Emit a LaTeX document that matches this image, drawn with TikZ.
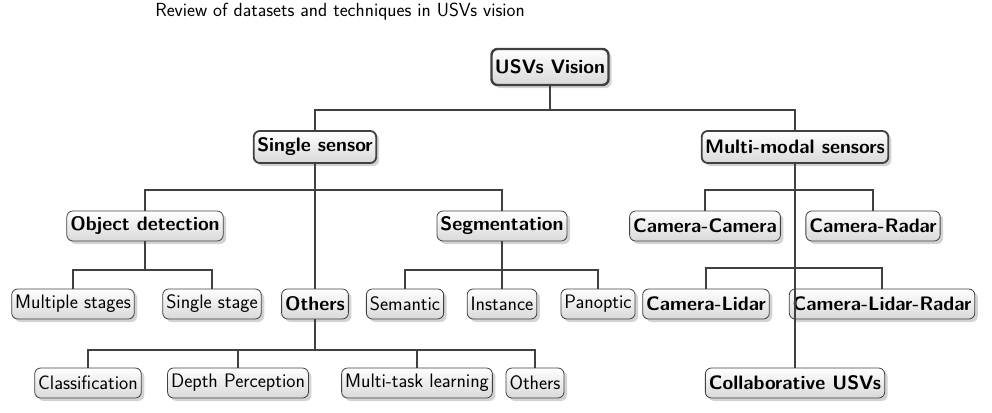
\documentclass[tikz,border=0pt]{standalone}
\usepackage{fontspec}
\setsansfont{Latin Modern Sans}
\usetikzlibrary{shadows}
\begin{document}
\begin{tikzpicture}[x=1pt,y=-1pt,
 base/.style={rounded corners=6pt,draw=black!75,top color=white,bottom color=black!15,font=\fontsize{19.5}{21}\selectfont\sffamily,inner xsep=3.5pt,inner ysep=2pt,minimum height=32pt,drop shadow={opacity=0.35,shadow xshift=3pt,shadow yshift=-3pt}},
 leaf/.style={base,line width=0.8pt,minimum height=30pt},
 bleaf/.style={leaf,font=\fontsize{19.5}{21}\selectfont\sffamily\bfseries},
 mid/.style={base,line width=1.8pt,font=\fontsize{19.5}{21}\selectfont\sffamily\bfseries},
 top/.style={mid,line width=2.4pt,minimum height=36pt},
 ln/.style={draw=black!75,line width=1.2pt}]
\useasboundingbox (0,0) rectangle (992,412);
\node[font=\fontsize{19}{21}\selectfont\sffamily] (t) at (340,12) {Review of datasets and techniques in USVs vision};
\node[top] (r) at (550,67) {USVs Vision};
\node[mid] (s) at (315,147) {Single sensor};
\node[mid] (m) at (795,147) {Multi-modal sensors};
\node[bleaf] (od) at (145,226) {Object detection};
\node[bleaf] (sg) at (502,226) {Segmentation};
\node[bleaf] (ot) at (315,304) {Others};
\node[leaf] (ms) at (73,304) {Multiple stages};
\node[leaf] (ss) at (212,304) {Single stage};
\node[leaf] (se) at (405,304) {Semantic};
\node[leaf] (in) at (502,304) {Instance};
\node[leaf] (pa) at (598,304) {Panoptic};
\node[leaf] (cl) at (88,383) {Classification};
\node[leaf] (dp) at (238,383) {Depth Perception};
\node[leaf] (mt) at (417,383) {Multi-task learning};
\node[leaf] (o2) at (535,383) {Others};
\node[bleaf] (cc) at (705,226) {Camera-Camera};
\node[bleaf] (cr) at (873,226) {Camera-Radar};
\node[bleaf] (cli) at (706,304) {Camera-Lidar};
\node[bleaf] (clr) at (882,304) {Camera-Lidar-Radar};
\node[bleaf] (cu) at (795,383) {Collaborative USVs};
\draw[ln] (r.south) -- (550,110) (s.north) |- (550,110) -| (m.north);
\draw[ln] (s.south) -- (ot.north) (od.north) |- (315,190) -| (sg.north);
\draw[ln] (od.south) -- (145,270) (ms.north) |- (145,270) -| (ss.north);
\draw[ln] (sg.south) -- (in.north) (se.north) |- (502,270) -| (pa.north);
\draw[ln] (ot.south) -- (315,350) (cl.north) |- (315,350) -| (o2.north) (dp.north) -- (238,350) (mt.north) -- (417,350);
\draw[ln] (m.south) -- (cu.north) (cc.north) |- (795,190) -| (cr.north) (cli.north) |- (795,268) -| (clr.north);
\end{tikzpicture}
\end{document}
